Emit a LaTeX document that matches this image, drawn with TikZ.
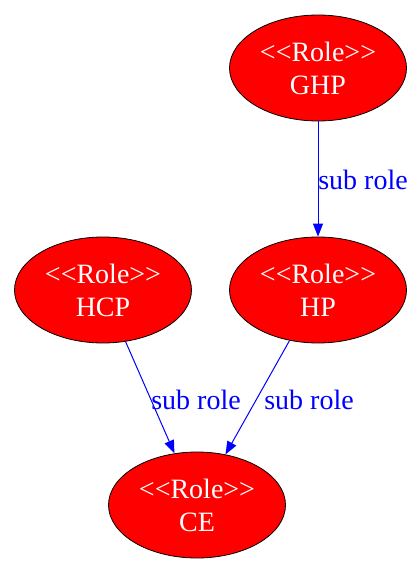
\documentclass[tikz,border=0pt]{standalone}
\usepackage{fontspec}
\setmainfont{Liberation Serif}
\usetikzlibrary{shapes.geometric, arrows.meta}

% stereotype head, kerns keep << and >> from turning into guillemets
\newcommand{\rolehead}{<\kern0pt<Role>\kern0pt>}

\begin{document}
\begin{tikzpicture}[
    x=1pt, y=-1pt,
    role/.style={ellipse, draw=black, line width=0.8pt, fill=red, text=white,
        minimum width=177pt, minimum height=106pt, inner sep=0pt, align=center,
        font=\fontsize{28}{33}\selectfont},
    sub/.style={-{Triangle[length=13pt,width=10pt]}, draw=blue, line width=1pt},
    lbl/.style={text=blue, font=\fontsize{28}{33}\selectfont, inner sep=0pt}
]
\useasboundingbox (0,0) rectangle (407,561);

% Roles
\node[role] (ghp) at (318, 68) {\rolehead\\GHP};
\node[role] (hcp) at (103, 290) {\rolehead\\HCP};
\node[role] (hp) at (318, 290) {\rolehead\\HP};
\node[role] (ce) at (197, 505) {\rolehead\\CE};

% Sub role edges
\draw[sub] (ghp) -- (hp);
\draw[sub] (hcp) -- (ce);
\draw[sub] (hp) -- (ce);

% Edge labels
\node[lbl] (lghp) at (363, 180) {sub role};
\node[lbl] (lhcp) at (196, 400) {sub role};
\node[lbl] (lhp) at (309, 400) {sub role};
\end{tikzpicture}
\end{document}
